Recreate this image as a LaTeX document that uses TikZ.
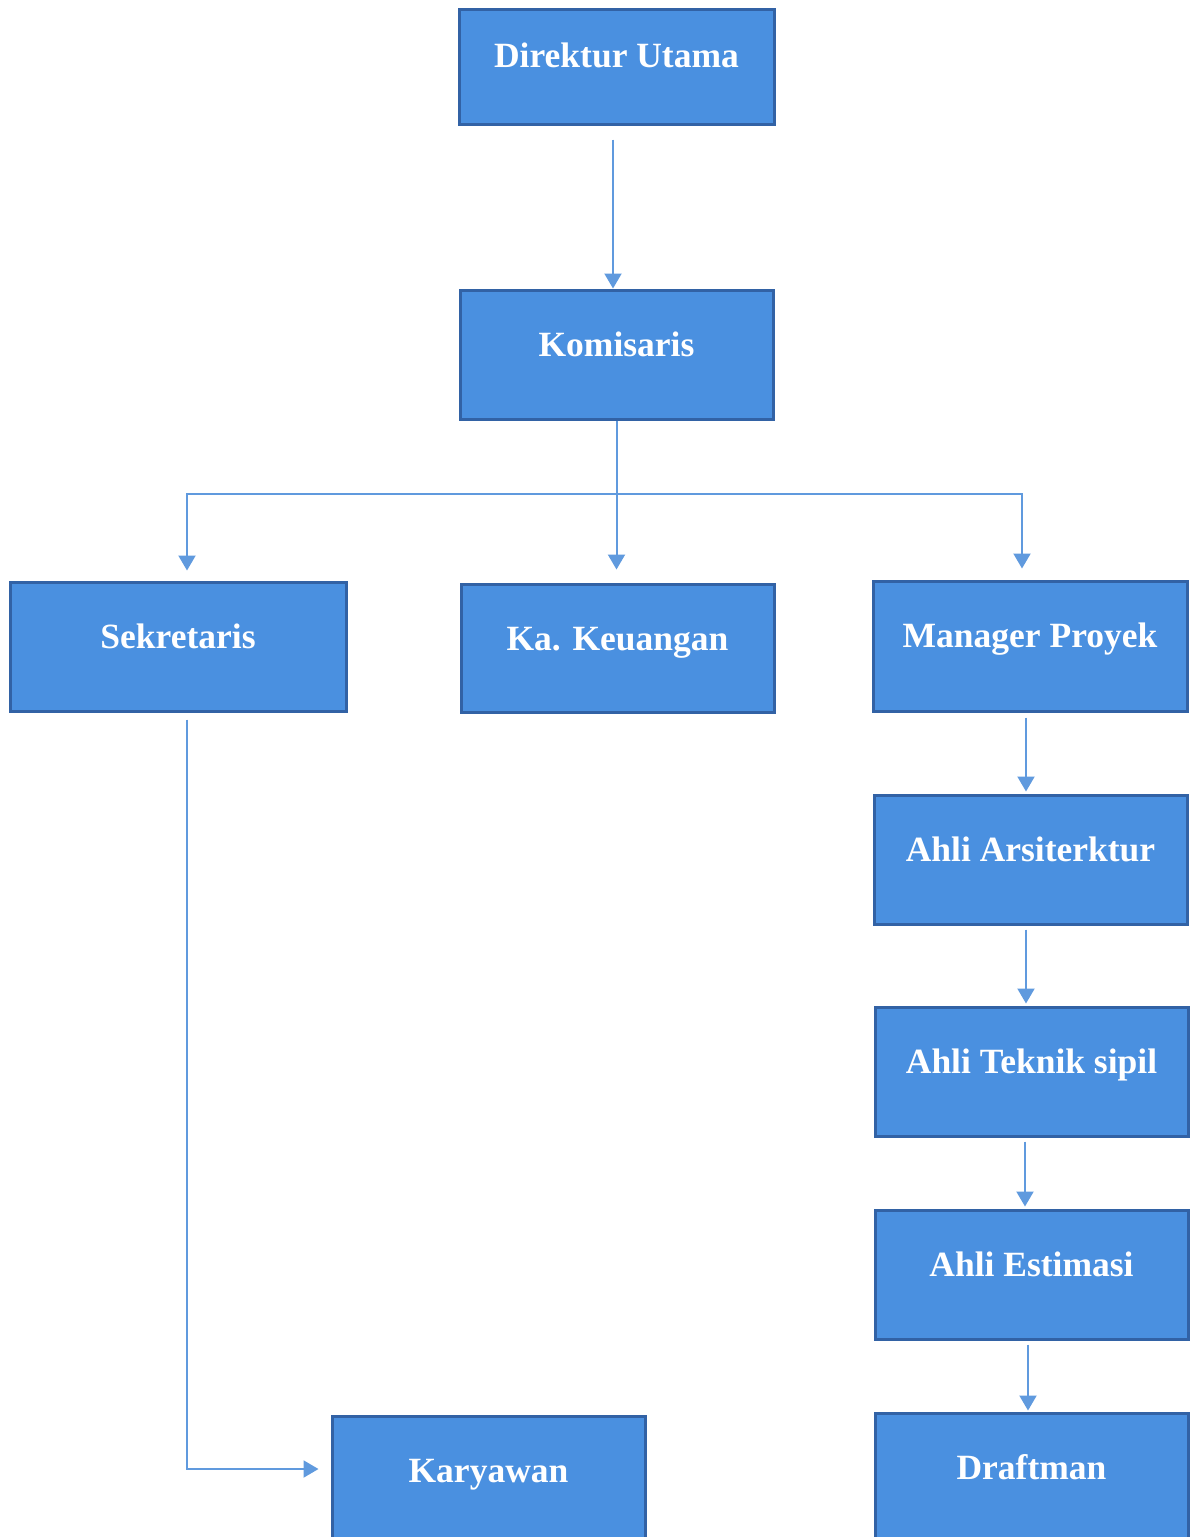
\documentclass[tikz,border=0pt]{standalone}
\usepackage{fontspec}
\setmainfont{Liberation Serif}
\usetikzlibrary{arrows.meta}
\definecolor{boxfill}{RGB}{74,144,224}
\definecolor{boxline}{RGB}{50,98,165}
\definecolor{connc}{RGB}{96,154,222}
\begin{document}
\begin{tikzpicture}[x=1pt,y=-1pt,
  box/.style={draw=boxline, line width=3pt, fill=boxfill, rectangle, inner sep=0pt},
  lbl/.style={text=white, font=\bfseries\fontsize{35.5}{40}\selectfont, anchor=base, inner sep=0pt},
  conn/.style={draw=connc, line width=2pt, -{Triangle[width=17pt,length=15pt]}}]
\useasboundingbox[fill=white] (0,0) rectangle (1190,1537);
% boxes
\node[box, minimum width=315pt, minimum height=115pt] (dir) at (616.5,66.5) {};
\node[box, minimum width=313pt, minimum height=129pt] (kom) at (616.5,354.5) {};
\node[box, minimum width=336pt, minimum height=129pt] (sek) at (178,646.5) {};
\node[box, minimum width=313pt, minimum height=128pt] (keu) at (617.5,648) {};
\node[box, minimum width=314pt, minimum height=130pt] (man) at (1030,646) {};
\node[box, minimum width=313pt, minimum height=129pt] (ars) at (1030.5,859.5) {};
\node[box, minimum width=313pt, minimum height=129pt] (tek) at (1031.5,1071.5) {};
\node[box, minimum width=313pt, minimum height=129pt] (est) at (1031.5,1274.5) {};
\node[box, minimum width=313pt, minimum height=132pt] (dra) at (1031.5,1479) {};
\node[box, minimum width=313pt, minimum height=132pt] (kar) at (488.5,1482) {};
% labels
\node[lbl] (tdir) at ([yshift=-60pt]dir.north) {Direktur Utama};
\node[lbl] (tkom) at ([yshift=-68pt]kom.north) {Komisaris};
\node[lbl] (tsek) at ([yshift=-68pt]sek.north) {Sekretaris};
\node[lbl] (tkeu) at ([yshift=-68pt]keu.north) {Ka. Keuangan};
\node[lbl] (tman) at ([yshift=-68pt]man.north) {Manager Proyek};
\node[lbl] (tars) at ([yshift=-68pt]ars.north) {Ahli Arsiterktur};
\node[lbl] (ttek) at ([yshift=-68pt]tek.north) {Ahli Teknik sipil};
\node[lbl] (test) at ([yshift=-68pt]est.north) {Ahli Estimasi};
\node[lbl] (tdra) at ([yshift=-68pt]dra.north) {Draftman};
\node[lbl] (tkar) at ([yshift=-68pt]kar.north) {Karyawan};
% connectors
\draw[conn, shorten <=14pt] ([xshift=-3.5pt]dir.south) -- ([xshift=-3.5pt]kom.north);
\coordinate (j) at (616.5,494);
\draw[conn, shorten >=13pt] (kom.south) -- (kom.south |- keu.north);
\draw[conn, shorten >=10pt] (j) -| ([xshift=9pt]sek.north);
\draw[conn, shorten >=11pt] (j) -| ([xshift=-8pt]man.north);
\draw[conn, shorten <=5pt, shorten >=2pt] ([xshift=-4pt]man.south) -- ([xshift=-4.5pt]ars.north);
\draw[conn, shorten <=4pt, shorten >=2pt] ([xshift=-4.5pt]ars.south) -- ([xshift=-5.5pt]tek.north);
\draw[conn, shorten <=4pt, shorten >=2pt] ([xshift=-6.5pt]tek.south) -- ([xshift=-6.5pt]est.north);
\draw[conn, shorten <=4pt, shorten >=1pt] ([xshift=-3.5pt]est.south) -- ([xshift=-3.5pt]dra.north);
\draw[conn, shorten <=7pt, shorten >=12pt] ([xshift=9pt]sek.south) |- ([yshift=13pt]kar.west);
\end{tikzpicture}
\end{document}
